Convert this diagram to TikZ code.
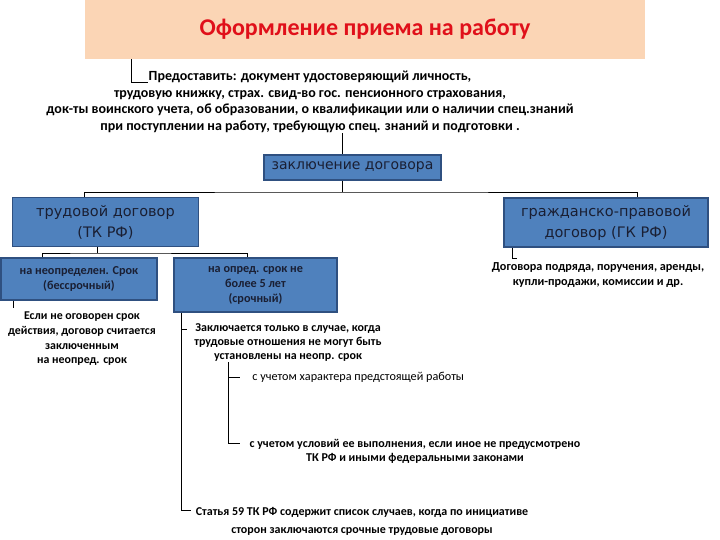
\documentclass[tikz,border=0pt]{standalone}
\usepackage{fontspec}
\setmainfont{Carlito}
\newfontfamily\boxfamily{DejaVu Sans}
\usepackage{xcolor}
\usepackage{tikz}
\usetikzlibrary{shapes,arrows,positioning,fit,calc}

\definecolor{titlefill}{HTML}{FBD5B5}
\definecolor{titlered}{HTML}{E0101A}
\definecolor{boxfill}{HTML}{4F81BD}
\definecolor{boxedge}{HTML}{2F5080}
\definecolor{boxtext}{HTML}{1A1F33}

\begin{document}
\begin{tikzpicture}[x=1pt, y=-1pt, line width=0.9pt,
    bluebox/.style={rectangle, draw=boxedge, line width=1.2pt, fill=boxfill, text=boxtext, align=center, inner sep=0pt},
    bigtext/.style={font=\boxfamily\fontsize{14.5}{21}\selectfont},
    smalltext/.style={font=\bfseries\fontsize{12.2}{15}\selectfont},
    note/.style={align=center, inner sep=0pt, font=\bfseries\fontsize{12}{14}\selectfont}]
    \useasboundingbox [fill=white] (0,0) rectangle (720,540);

    % boxes
    \node (title) [rectangle, fill=titlefill, minimum width=560pt, minimum height=59pt, text=titlered, font=\bfseries\fontsize{24}{28}\selectfont] at (365,29.5) {Оформление приема на работу};
    \node (concl) [bluebox, bigtext, font=\boxfamily\fontsize{14}{20}\selectfont, minimum width=177pt, minimum height=25pt] at (352.5,167.5) {заключение договора};
    \node (labour) [bluebox, bigtext, minimum width=186pt, minimum height=49pt] at (105.5,222) {трудовой договор\\(ТК РФ)};
    \node (civil) [bluebox, bigtext, minimum width=204pt, minimum height=49pt] at (606,222.5) {гражданско-правовой\\договор (ГК РФ)};
    \node (indef) [bluebox, smalltext, minimum width=156pt, minimum height=42pt] at (79,279) {на неопределен. Срок\\(бессрочный)};
    \node (fixed) [bluebox, smalltext, minimum width=163pt, minimum height=54pt] at (255.5,285) {на опред. срок не\\более 5 лет\\(срочный)};

    % texts
    \node (provide) [note, font=\bfseries\fontsize{14}{16.7}\selectfont] at (310,102) {Предоставить: документ удостоверяющий личность,\\трудовую книжку, страх. свид-во гос. пенсионного страхования,\\док-ты воинского учета, об образовании, о квалификации или о наличии спец.знаний\\при поступлении на работу, требующую спец. знаний и подготовки .};
    \node (kinds) [note, font=\bfseries\fontsize{12.2}{15}\selectfont] at (598,275.5) {Договора подряда, поручения, аренды,\\купли-продажи, комиссии и др.};
    \node (tacit) [note, font=\bfseries\fontsize{11.9}{14.7}\selectfont] at (82,339) {Если не оговорен срок\\действия, договор считается\\заключенным\\на неопред. срок};
    \node (only) [note] at (288,343) {Заключается только в случае, когда\\трудовые отношения не могут быть\\установлены на неопр. срок};
    \node (nature) [note, anchor=west, font=\fontsize{12.2}{14}\selectfont] at (252,377) {с учетом характера предстоящей работы};
    \node (terms) [note] at (415,451) {с учетом условий ее выполнения, если иное не предусмотрено\\ТК РФ и иными федеральными законами};
    \node (art59) [note, font=\bfseries\fontsize{12}{18}\selectfont] at (362,521) {Статья 59 ТК РФ содержит список случаев, когда по инициативе\\сторон заключаются срочные трудовые договоры};

    \coordinate (bus) at (342,192);
    \coordinate (bus2) at (97,253);
    \coordinate (spine) at (181,0);
    \coordinate (spine2) at (228,0);
    \coordinate (tpr) at (148,82);
    \coordinate (tcv) at (517,258);
    \coordinate (tonly) at (187,329);
    \coordinate (tnat) at (240,377);
    \coordinate (tterm) at (240,443);
    \coordinate (t59) at (191,510);

    % lines
    \draw ([xshift=-234pt]title.south) |- (tpr);
    \draw (provide.south -| bus) -- (concl.north -| bus);
    \draw (concl.south -| bus) -- (bus);
    \draw ([xshift=-21.5pt]labour.north) |- (bus) -| ([xshift=31pt]civil.north);
    \draw (labour.south -| bus2) -- (bus2);
    \draw ([xshift=-37pt]indef.north) |- (bus2) -| ([xshift=-8.5pt]fixed.north);
    \draw ([xshift=-66pt]indef.south) -- +(0,7);
    \draw ([xshift=-94pt]civil.south) |- (tcv);
    \draw (fixed.south -| spine) |- (t59);
    \draw (tonly -| spine) -- (tonly);
    \draw (only.south -| spine2) |- (tnat);
    \draw (tnat -| spine2) |- (tterm);
\end{tikzpicture}
\end{document}
